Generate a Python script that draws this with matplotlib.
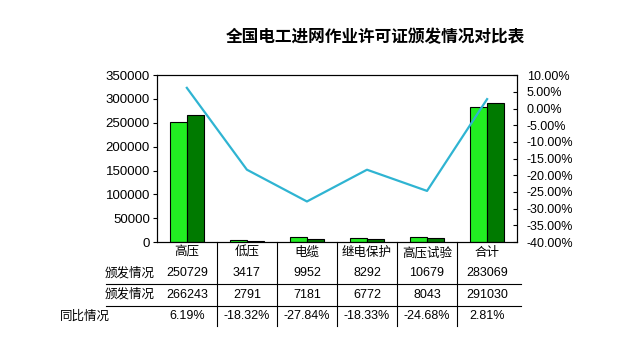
import matplotlib.pyplot as plt
from matplotlib.ticker import FuncFormatter, MultipleLocator
import matplotlib.transforms as mtransforms

plt.rcParams['font.family'] = ['Liberation Sans', 'Noto Sans CJK SC']

categories = ['高压', '低压', '电缆', '继电保护', '高压试验', '合计']
issued_a = [250729, 3417, 9952, 8292, 10679, 283069]
issued_b = [266243, 2791, 7181, 6772, 8043, 291030]
yoy = [6.19, -18.32, -27.84, -18.33, -24.68, 2.81]
row_labels = ['颁发情况', '颁发情况', '同比情况']
title = '全国电工进网作业许可证颁发情况对比表'


def main():
    fig = plt.figure(figsize=(6.4, 3.56), dpi=100)
    ax = fig.add_axes([0.245, 0.32, 0.563, 0.469])
    x = list(range(len(categories)))
    w = 0.28

    ax.bar([i - w / 2 for i in x], issued_a, w, color='#22EE22', edgecolor='black', linewidth=0.8)
    ax.bar([i + w / 2 for i in x], issued_b, w, color='#007A00', edgecolor='black', linewidth=0.8)
    ax.set_xlim(-0.5, len(categories) - 0.5)
    ax.set_ylim(0, 350000)
    ax.yaxis.set_major_locator(MultipleLocator(50000))
    ax.set_xticks([])
    ax.tick_params(axis='y', labelsize=9.5, length=3, pad=2)
    for s in ax.spines.values():
        s.set_linewidth(0.8)

    ax2 = ax.twinx()
    ax2.plot(x, yoy, color='#2FB4D2', linewidth=1.6)
    ax2.set_ylim(-40, 10)
    ax2.yaxis.set_major_locator(MultipleLocator(5))
    ax2.yaxis.set_major_formatter(FuncFormatter(lambda v, p: '%.2f%%' % v))
    ax2.tick_params(axis='y', labelsize=9, length=3, direction='in', pad=7)

    # table under the axis
    trans = mtransforms.blended_transform_factory(ax.transData, ax.transAxes)
    rows = [issued_a, issued_b, ['%.2f%%' % v for v in yoy]]
    row_y = [-0.185, -0.315, -0.445]
    for i, c in enumerate(categories):
        ax.text(i, -0.065, c, transform=trans, ha='center', va='center', fontsize=9)
        for vals, yy in zip(rows, row_y):
            ax.text(i, yy, str(vals[i]), transform=trans, ha='center', va='center', fontsize=9)
    for i in range(len(categories) - 1):
        ax.plot([i + 0.5, i + 0.5], [0, -0.5], transform=trans, color='black',
                linewidth=0.8, clip_on=False)
    for yy in [-0.25, -0.38]:
        ax.plot([-0.14, 1.01], [yy, yy], transform=ax.transAxes, color='black',
                linewidth=0.8, clip_on=False)
    ax.text(-0.005, row_y[0], row_labels[0], transform=ax.transAxes, ha='right', va='center', fontsize=9)
    ax.text(-0.005, row_y[1], row_labels[1], transform=ax.transAxes, ha='right', va='center', fontsize=9)
    ax.text(-0.27, row_y[2], row_labels[2], transform=ax.transAxes, ha='left', va='center', fontsize=9)

    fig.text(0.586, 0.895, title, ha='center', va='center', fontsize=12, fontweight='bold')
    fig.savefig('out.png', dpi=100)


if __name__ == '__main__': main()
